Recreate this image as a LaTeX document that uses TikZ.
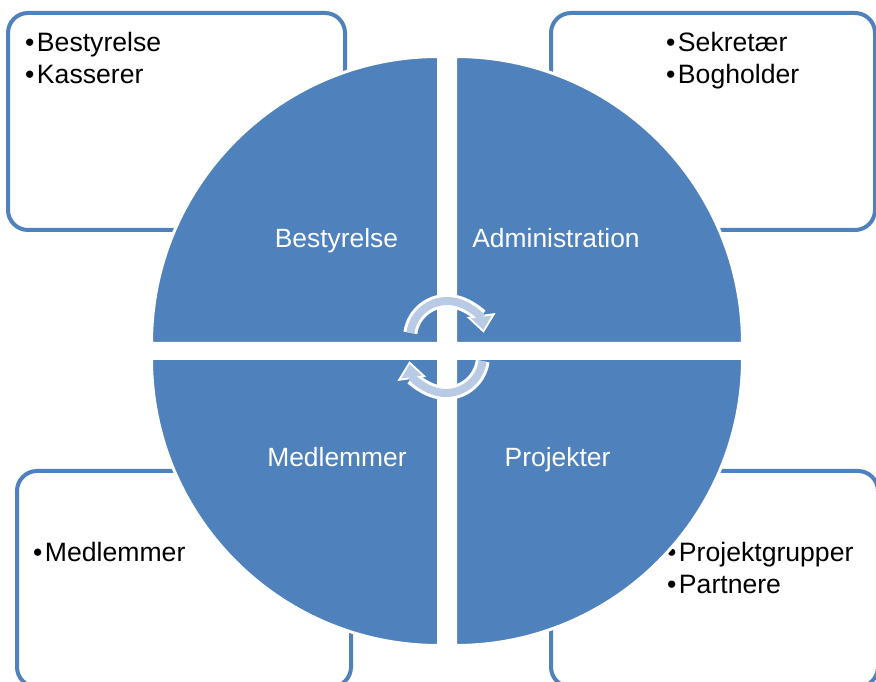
\documentclass[tikz,border=0pt]{standalone}
\usepackage{fontspec}
\setmainfont{Liberation Sans}
\usetikzlibrary{arrows.meta}

\definecolor{quadblue}{HTML}{4F81BD}
\definecolor{cyclefill}{HTML}{B9CBE4}

\newcommand{\itm}{•\hspace{2.5pt}}

\begin{document}
\begin{tikzpicture}[x=1pt, y=1pt]
  \tikzstyle{listbox} = [draw=quadblue, line width=4pt, rounded corners=20pt, fill=white]
  \tikzstyle{item} = [anchor=north west, inner sep=0pt, align=left, font=\fontsize{26.6}{32}\selectfont]
  \tikzstyle{quad} = [fill=quadblue, draw=white, line width=3pt]
  \tikzstyle{quadtext} = [anchor=base, inner sep=0pt, text=white, font=\fontsize{26.4}{32}\selectfont]
  \tikzstyle{casing} = [draw=white, line width=14pt, -{Triangle[length=18pt, width=28pt]}]
  \tikzstyle{cycle} = [draw=cyclefill, line width=8pt, shorten >=3pt, -{Triangle[length=13pt, width=20pt]}]
  \useasboundingbox (0,0) rectangle (876,682);

  % boxes behind the circle
  \draw [listbox] (8,669) rectangle (345,452);
  \draw [listbox] (551,669) rectangle (875,452);
  \draw [listbox] (17,211) rectangle (351,-5);
  \draw [listbox] (551,211) rectangle (878,-5);

  \node (bl) [item] at (25,650) {\itm Bestyrelse\\\itm Kasserer};
  \node (al) [item] at (666,650) {\itm Sekretær\\\itm Bogholder};
  \node (ml) [item] at (33,140) {\itm Medlemmer};
  \node (pl) [item] at (667,140) {\itm Projektgrupper\\\itm Partnere};

  % quarters of the circle
  \path [quad] (438.5,338.5) -- ++(180:287) arc[start angle=180, end angle=90, radius=287] -- cycle;
  \path [quad] (455.5,338.5) -- ++(90:287) arc[start angle=90, end angle=0, radius=287] -- cycle;
  \path [quad] (438.5,323.5) -- ++(180:287) arc[start angle=180, end angle=270, radius=287] -- cycle;
  \path [quad] (455.5,323.5) -- ++(270:287) arc[start angle=270, end angle=360, radius=287] -- cycle;

  \node (b) [quadtext] at (336.5,434) {Bestyrelse};
  \node (a) [quadtext] at (556,434) {Administration};
  \node (m) [quadtext] at (337,215) {Medlemmer};
  \node (p) [quadtext] at (557.5,215) {Projekter};

  % cycle arrows
  \coordinate (tc) at (447,344);
  \coordinate (bc) at (446,326);
  \draw [casing] (tc) ++(172:37) arc[start angle=172, end angle=8, radius=37];
  \draw [cycle] (tc) ++(172:37) arc[start angle=172, end angle=8, radius=37];
  \draw [casing] (bc) ++(352:37) arc[start angle=352, end angle=188, radius=37];
  \draw [cycle] (bc) ++(352:37) arc[start angle=352, end angle=188, radius=37];
\end{tikzpicture}
\end{document}
